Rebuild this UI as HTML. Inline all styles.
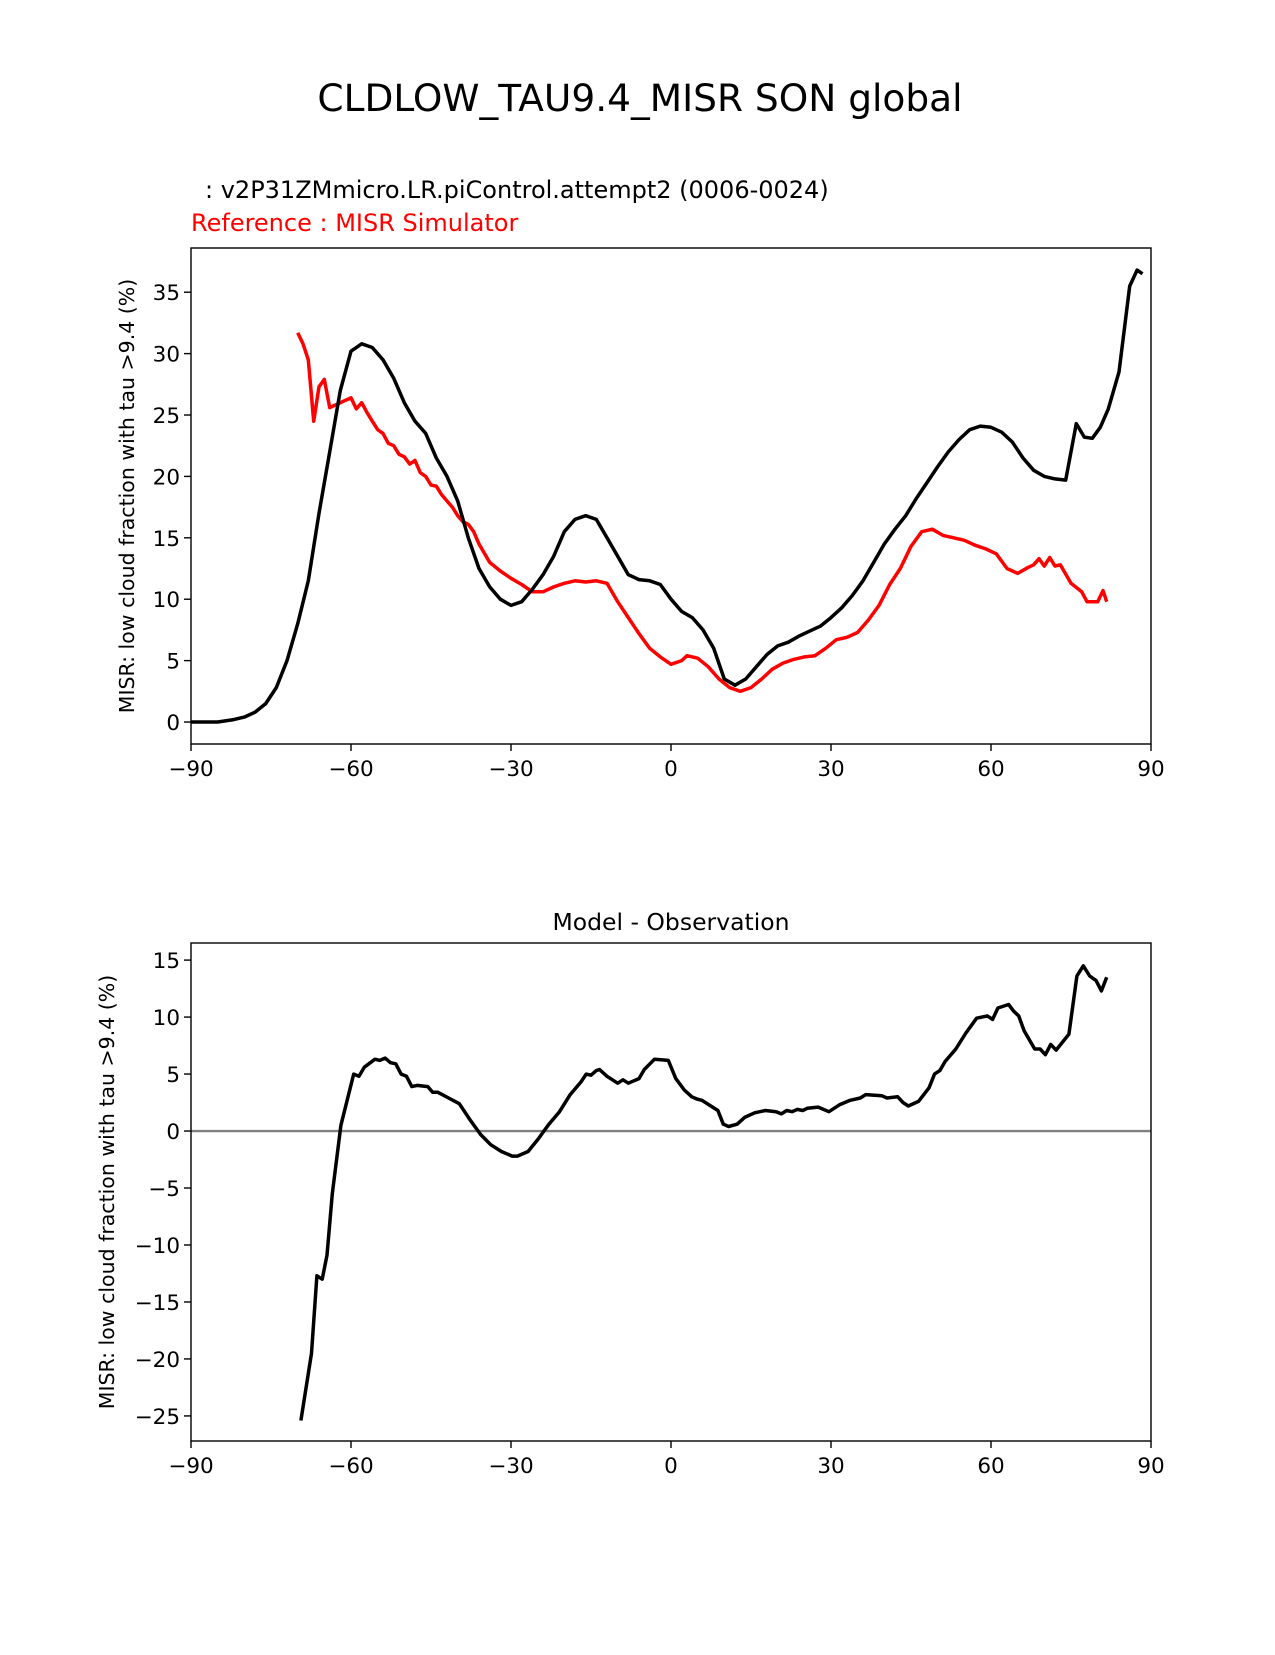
<!DOCTYPE html>
<html><head><meta charset="utf-8"><style>
body{margin:0;background:#fff;}
svg text{font-family:"DejaVu Sans","Liberation Sans",sans-serif;}
</style></head><body>
<svg id="fig" width="1275" height="1650" xmlns="http://www.w3.org/2000/svg">
<rect width="1275" height="1650" fill="#fff"/>
<text x="640" y="111" font-size="37.5" text-anchor="middle">CLDLOW_TAU9.4_MISR SON global</text>
<text x="205" y="198" font-size="24">: v2P31ZMmicro.LR.piControl.attempt2 (0006-0024)</text>
<text x="191" y="231" font-size="24" fill="#ff0000">Reference : MISR Simulator</text>
<text x="671" y="930" font-size="23.5" text-anchor="middle">Model - Observation</text>
<g id="top"></g>
<g id="bot"></g>
</svg>
<script>
const testLat=[-90,-85,-82,-80,-78,-76,-74,-72,-70,-68,-66,-64,-62,-60,-58,-56,-54,-52,-50,-48,-46,-44,-42,-40,-38,-36,-34,-32,-30,-28,-26,-24,-22,-20,-18,-16,-14,-12,-10,-8,-6,-4,-2,0,2,4,6,8,10,12,14,16,18,20,22,24,26,28,30,32,34,36,38,40,42,44,46,48,50,52,54,56,58,60,62,64,66,68,70,72,74,76,77.5,79,80.5,82,84,86,87.4,88.4,90];
const testVal=[0,0,0.2,0.4,0.8,1.5,2.8,5,8,11.5,17,22,27,30.2,30.8,30.5,29.5,28,26,24.5,23.5,21.5,20,18,15,12.5,11,10,9.5,9.8,10.8,12,13.5,15.5,16.5,16.8,16.5,15,13.5,12,11.6,11.5,11.2,10,9,8.5,7.5,6,3.5,3,3.5,4.5,5.5,6.2,6.5,7,7.4,7.8,8.5,9.3,10.3,11.5,13,14.5,15.7,16.8,18.2,19.5,20.8,22,23,23.8,24.1,24,23.6,22.8,21.5,20.5,20,19.8,19.7,24.3,23.2,23.1,24,25.5,28.5,35.5,36.8,36.5];
const refLat=[-70,-69,-68,-67,-66,-65,-64,-62,-60,-59,-58,-57,-56,-55,-54,-53,-52,-51,-50,-49,-48,-47,-46,-45,-44,-43,-42,-41,-40,-39,-38,-37,-36,-34,-32,-30,-28,-26,-24,-22,-20,-18,-16,-14,-12,-10,-8,-6,-4,-2,0,2,3,5,7,9,11,13,15,17,19,21,23,25,27,29,31,33,35,37,39,41,43,45,47,49,51,53,55,57,59,61,63,65,67,68,69,70,71,72,73,75,77,78,80,81,81.7];
const refVal=[31.7,30.8,29.5,24.5,27.3,27.9,25.6,26,26.4,25.5,26,25.2,24.5,23.8,23.5,22.7,22.5,21.8,21.6,21,21.3,20.3,20,19.3,19.2,18.5,18,17.5,16.8,16.3,16.1,15.5,14.5,13,12.3,11.7,11.2,10.6,10.6,11,11.3,11.5,11.4,11.5,11.3,9.8,8.5,7.2,6,5.3,4.7,5,5.4,5.2,4.5,3.5,2.8,2.5,2.8,3.5,4.3,4.8,5.1,5.3,5.4,6,6.7,6.9,7.3,8.3,9.5,11.2,12.5,14.3,15.5,15.7,15.2,15,14.8,14.4,14.1,13.7,12.5,12.1,12.6,12.8,13.3,12.7,13.4,12.7,12.8,11.3,10.6,9.8,9.8,10.7,9.8];
const diffLat=[-69.4,-67.4,-66.4,-65.4,-64.5,-63.5,-61.9,-59.5,-58.5,-57.5,-55.5,-54.6,-53.6,-52.6,-51.6,-50.6,-49.6,-48.6,-47.6,-45.6,-44.7,-43.7,-41.7,-39.7,-37.7,-35.7,-33.8,-31.8,-29.8,-28.8,-26.8,-24.9,-22.9,-20.9,-18.9,-16.9,-15.9,-15.0,-14.0,-13.4,-12.0,-10.0,-9.0,-8.0,-6.0,-5.0,-3.1,-0.5,0.9,2.5,3.9,4.9,5.8,7.8,8.8,9.8,10.8,12.4,13.8,15.7,17.7,19.7,20.7,21.7,22.7,23.7,24.7,25.6,27.6,29.6,31.6,33.6,35.5,36.5,39.5,40.5,42.5,43.5,44.5,46.4,48.4,49.4,50.4,51.4,53.4,55.3,57.3,59.3,60.3,61.3,63.3,64.3,65.2,66.2,67.2,68.2,69.2,70.2,71.2,72.2,74.6,76.1,77.3,78.5,79.7,80.7,81.7];
const diffVal=[-25.4,-19.5,-12.7,-13,-10.9,-5.5,0.5,5,4.8,5.6,6.3,6.2,6.4,6,5.9,5,4.8,3.9,4,3.9,3.4,3.4,2.9,2.4,1,-0.3,-1.2,-1.8,-2.2,-2.2,-1.8,-0.7,0.6,1.7,3.2,4.3,5,4.9,5.3,5.4,4.8,4.2,4.5,4.2,4.6,5.4,6.3,6.2,4.6,3.6,3,2.8,2.7,2.1,1.8,0.6,0.4,0.6,1.2,1.6,1.8,1.7,1.5,1.8,1.7,1.9,1.8,2,2.1,1.7,2.3,2.7,2.9,3.2,3.1,2.9,3,2.5,2.2,2.6,3.8,5,5.3,6.1,7.2,8.6,9.9,10.1,9.8,10.8,11.1,10.5,10.1,8.8,8,7.2,7.2,6.7,7.6,7.1,8.5,13.6,14.5,13.6,13.2,12.3,13.5];
const xTicks=[-90,-60,-30,0,30,60,90];
const xTickLabels=["\u221290","\u221260","\u221230","0","30","60","90"];
const topYTicks=[0,5,10,15,20,25,30,35];
const botYTicks=[-25,-20,-15,-10,-5,0,5,10,15];
const NS="http://www.w3.org/2000/svg";
function mk(p,t,a){const e=document.createElementNS(NS,t);for(const k in a)e.setAttribute(k,a[k]);p.appendChild(e);return e;}
function axes(g,top,bot,ymin,ymax,yTicks,ylabel){
  const L=191,R=1151;
  const sx=v=>L+(v+90)/180*(R-L);
  const sy=v=>bot-(v-ymin)/(ymax-ymin)*(bot-top);
  xTicks.forEach((t,i)=>{
    const tk=mk(g,'line',{x1:sx(t),x2:sx(t),y1:bot,y2:bot+7,stroke:'#000','stroke-width':1.4});
    
    
    const tx=mk(g,'text',{x:sx(t),y:bot+32,'font-size':21.5,'text-anchor':'middle'});
    tx.textContent=xTickLabels[i];
    
    
  });
  yTicks.forEach(t=>{
    const tk=mk(g,'line',{x1:L-7,x2:L,y1:sy(t),y2:sy(t),stroke:'#000','stroke-width':1.4});
    
    
    const tx=mk(g,'text',{x:L-11,y:sy(t)+8,'font-size':21.5,'text-anchor':'end'});
    tx.textContent=t<0?'\u2212'+(-t):String(t);
    
    
  });
  const yl=mk(g,'text',{x:0,y:0,'font-size':20.5,'text-anchor':'middle',transform:`translate(${ylabel},${(top+bot)/2}) rotate(-90)`});
  yl.textContent='MISR: low cloud fraction with tau >9.4 (%)';
  
  
  return {sx,sy,L,R,top,bot};
}
function line(g,ax,xs,ys,color,name){
  const d=xs.map((x,i)=>(i?'L':'M')+ax.sx(x).toFixed(1)+','+ax.sy(ys[i]).toFixed(1)).join('');
  const p=mk(g,'path',{d:d,fill:'none',stroke:color,'stroke-width':3.5,'stroke-linejoin':'round'});
  
  
}
function frame(g,ax){
  const r=mk(g,'rect',{x:ax.L,y:ax.top,width:ax.R-ax.L,height:ax.bot-ax.top,fill:'none',stroke:'#000','stroke-width':1.4});
  
  
}
const gt=document.getElementById('top');
const a1=axes(gt,248,744,-1.79,38.6,topYTicks,134);
line(gt,a1,refLat,refVal,'#ff0000','reference-line');
line(gt,a1,testLat,testVal,'#000','test-line');
frame(gt,a1);
const gb=document.getElementById('bot');
const a2=axes(gb,943,1441,-27.2,16.5,botYTicks,114);
const z=mk(gb,'line',{x1:a2.L,x2:a2.R,y1:a2.sy(0),y2:a2.sy(0),stroke:'#808080','stroke-width':2.4});


line(gb,a2,diffLat,diffVal,'#000','difference-line');
frame(gb,a2);
</script>
</body></html>
